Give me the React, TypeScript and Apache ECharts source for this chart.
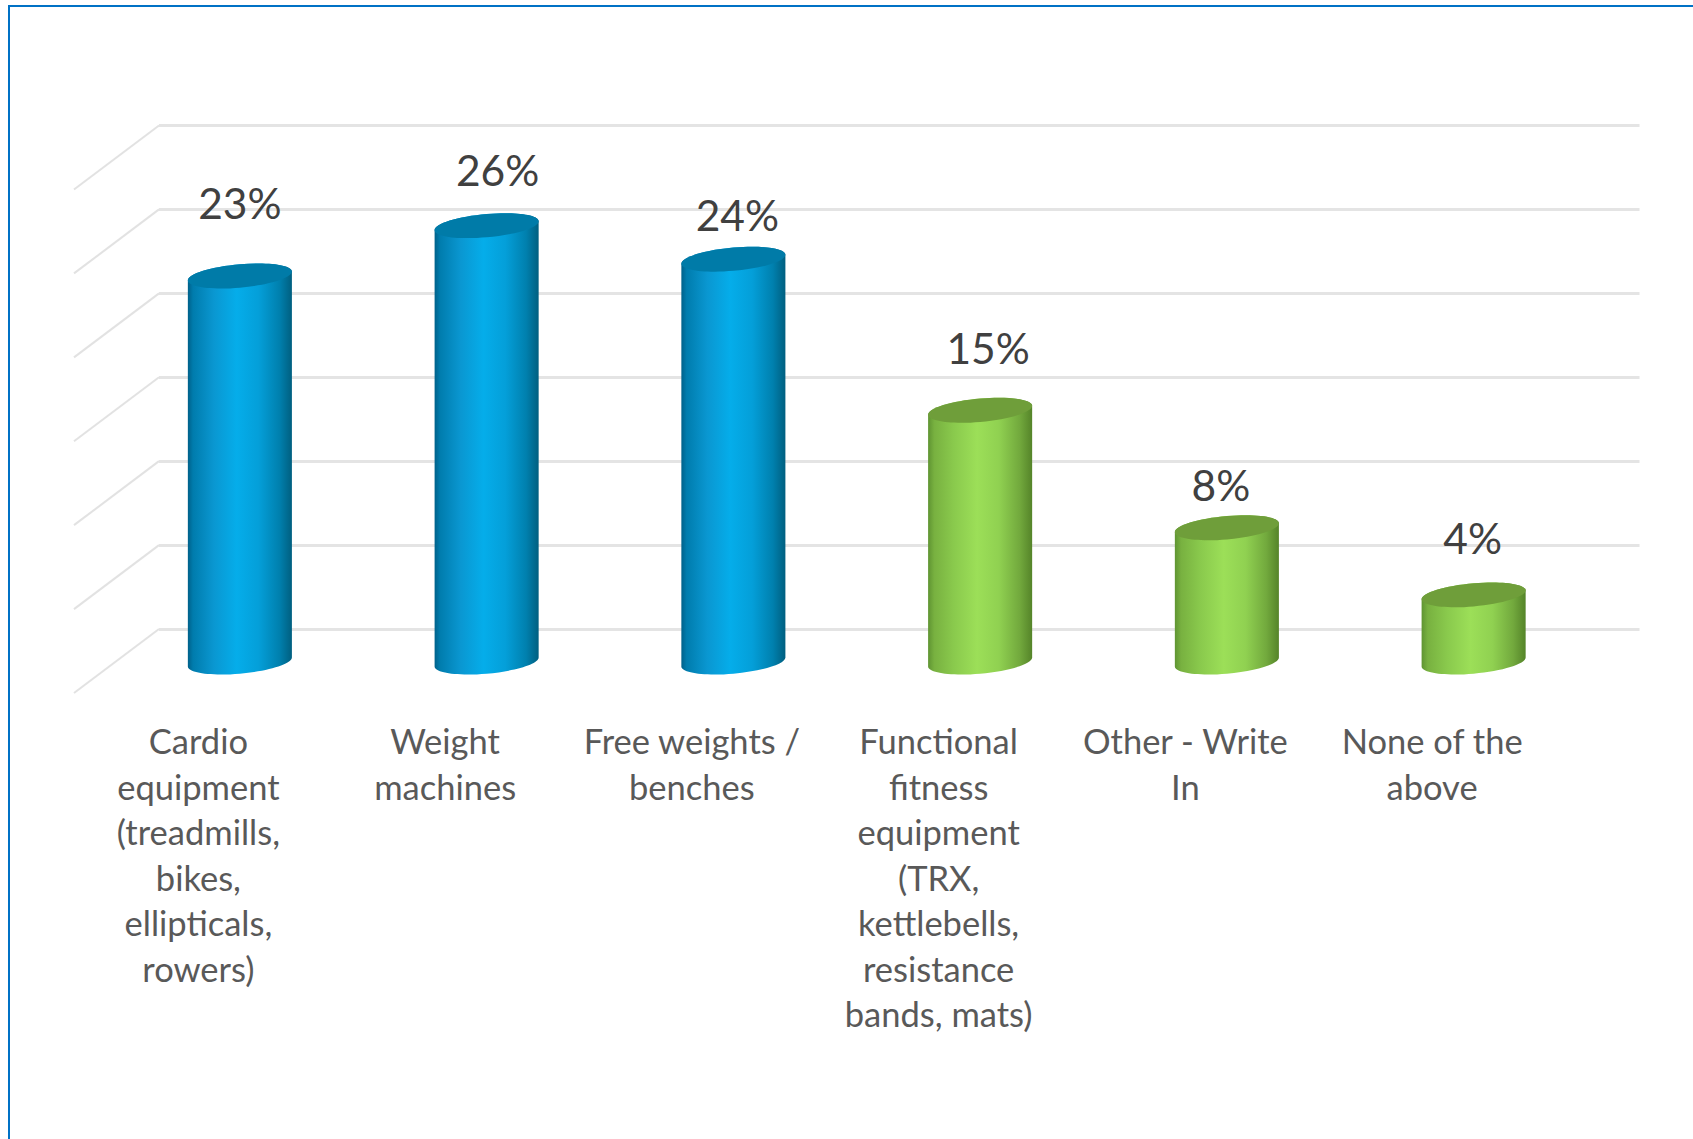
import React, { useEffect, useRef } from "react";
import * as echarts from "echarts";

// Survey shares by equipment type
const categories = [
  "Cardio\nequipment\n(treadmills,\nbikes,\nellipticals,\nrowers)",
  "Weight\nmachines",
  "Free weights /\nbenches",
  "Functional\nfitness\nequipment\n(TRX,\nkettlebells,\nresistance\nbands, mats)",
  "Other - Write\nIn",
  "None of the\nabove",
];
const shares = [23, 26, 24, 15, 8, 4];
const tones = ["blue", "blue", "blue", "green", "green", "green"];
const wallTicks = [0, 5, 10, 15, 20, 25, 30];

// Hand-placed data labels: offset of each label from its cylinder's top centre
const labelNudgeX = [0, 11, 4, 8, -6, -1];
const labelNudgeY = [-73, -56, -45, -63, -43, -57];

const palette: Record<string, { stops: [number, string][]; cap: string }> = {
  blue: {
    stops: [
      [0, "#00618a"],
      [0.05, "#007cad"],
      [0.25, "#0a97d1"],
      [0.47, "#05adea"],
      [0.68, "#049fd9"],
      [0.88, "#0080ae"],
      [1, "#005f80"],
    ],
    cap: "#007ba8",
  },
  green: {
    stops: [
      [0, "#5f9432"],
      [0.06, "#78b140"],
      [0.25, "#8aca4d"],
      [0.47, "#9cdf58"],
      [0.68, "#90d151"],
      [0.88, "#72a93d"],
      [1, "#558429"],
    ],
    cap: "#6f9e3a",
  },
};

// Floor depth of the 3D box, from the back wall to its front edge
const DEPTH_X = -85;
const DEPTH_Y = 64;
const BAND = 246.75;
const WALL = { left: 159, top: 125.5, height: 503.5, width: BAND * 6 };
const TILT = (5.2 * Math.PI) / 180;
const RY = 11.6;

// Point and tangent on an ellipse tilted TILT radians anticlockwise on screen
function ellipseAt(cx: number, cy: number, rx: number, t: number) {
  const c = Math.cos(t);
  const s = Math.sin(t);
  const cosT = Math.cos(TILT);
  const sinT = Math.sin(TILT);
  return {
    x: cx + rx * c * cosT + RY * s * sinT,
    y: cy - rx * c * sinT + RY * s * cosT,
    dx: -rx * s * cosT + RY * c * sinT,
    dy: rx * s * sinT + RY * c * cosT,
  };
}

// Cubic segments following the ellipse from t0 to t1, in quarter turns at most
function ellipseCurve(cx: number, cy: number, rx: number, t0: number, t1: number) {
  const steps = Math.ceil(Math.abs(t1 - t0) / (Math.PI / 2) - 1e-6);
  const dt = (t1 - t0) / steps;
  const k = (4 / 3) * Math.tan(dt / 4);
  let d = "";
  for (let n = 0; n < steps; n++) {
    const a = ellipseAt(cx, cy, rx, t0 + n * dt);
    const b = ellipseAt(cx, cy, rx, t0 + (n + 1) * dt);
    d += `C${a.x + k * a.dx} ${a.y + k * a.dy} ${b.x - k * b.dx} ${b.y - k * b.dy} ${b.x} ${b.y} `;
  }
  return d;
}

function renderWallEdge(params: any, api: any) {
  const y = api.coord([0, api.value(0)])[1];
  const x = params.coordSys.x;
  return {
    type: "line",
    shape: { x1: x, y1: y, x2: x + DEPTH_X, y2: y + DEPTH_Y },
    style: { stroke: "#e2e2e2", lineWidth: 2 },
    silent: true,
  };
}

function renderCylinder(params: any, api: any) {
  const i = api.value(0);
  const v = api.value(1);
  const [cx, yTop] = api.coord([i, v]);
  const yBase = api.coord([i, 0])[1];
  const rx = (api.size([1, 0])[0] * 0.4217) / 2 + 0.2;
  const tone = palette[tones[i]];

  // Parameter of the ellipse's rightmost point, where the cylinder's sides attach
  const tRight = Math.atan2(RY * Math.sin(TILT), rx * Math.cos(TILT));
  const tLeft = tRight + Math.PI;
  const topLeft = ellipseAt(cx, yTop, rx, tLeft);
  const baseLeft = ellipseAt(cx, yBase, rx, tLeft);
  const baseRight = ellipseAt(cx, yBase, rx, tRight);
  const topRight = ellipseAt(cx, yTop, rx, tRight);

  const body =
    `M${topLeft.x} ${topLeft.y} L${baseLeft.x} ${baseLeft.y} ` +
    ellipseCurve(cx, yBase, rx, tLeft, tRight) +
    `L${topRight.x} ${topRight.y} ` +
    ellipseCurve(cx, yTop, rx, tRight, tRight - Math.PI) +
    "Z";
  const cap =
    `M${topRight.x} ${topRight.y} ` +
    ellipseCurve(cx, yTop, rx, tRight, tRight + 2 * Math.PI) +
    "Z";

  return {
    type: "group",
    children: [
      {
        type: "path",
        shape: { pathData: body },
        style: {
          fill: new echarts.graphic.LinearGradient(
            0,
            0,
            1,
            0,
            tone.stops.map(([offset, color]) => ({ offset, color })),
          ),
        },
      },
      { type: "path", shape: { pathData: cap }, style: { fill: tone.cap } },
      {
        type: "text",
        x: cx + labelNudgeX[i],
        y: yTop + labelNudgeY[i],
        style: {
          text: `${v}%`,
          fill: "#404040",
          font: '42.5px Lato, "Noto Sans", sans-serif',
          align: "center",
          verticalAlign: "middle",
        },
      },
    ],
  };
}

export default function App() {
  const ref = useRef<HTMLDivElement>(null);

  useEffect(() => {
    const chart = echarts.init(ref.current!, undefined, { renderer: "svg" });
    const hiddenCategory = { type: "category", data: categories, show: false };
    const hiddenValue = { type: "value", min: 0, max: 30, interval: 5, show: false };
    chart.setOption({
      animation: false,
      backgroundColor: "#ffffff",
      grid: [
        // back wall
        { left: WALL.left, top: WALL.top, width: WALL.width, height: WALL.height },
        // mid-depth plane the cylinders stand on
        {
          left: WALL.left + DEPTH_X / 2,
          top: WALL.top + DEPTH_Y / 2 + 1,
          width: WALL.width,
          height: WALL.height,
        },
        // front edge of the floor, carrying the category labels
        {
          left: WALL.left + DEPTH_X + 1,
          top: WALL.top + DEPTH_Y,
          width: WALL.width,
          height: WALL.height,
        },
      ],
      xAxis: [
        { ...hiddenCategory, gridIndex: 0 },
        { ...hiddenCategory, gridIndex: 1 },
        {
          type: "category",
          data: categories,
          gridIndex: 2,
          axisLine: { show: false },
          axisTick: { show: false },
          axisLabel: {
            interval: 0,
            margin: 25,
            color: "#595959",
            fontFamily: 'Lato, "Noto Sans", sans-serif',
            fontSize: 34.5,
            lineHeight: 45.5,
            align: "center",
            verticalAlign: "top",
          },
        },
      ],
      yAxis: [
        {
          type: "value",
          min: 0,
          max: 30,
          interval: 5,
          gridIndex: 0,
          axisLine: { show: false },
          axisTick: { show: false },
          axisLabel: { show: false },
          splitLine: { lineStyle: { color: "#e4e4e4", width: 3 } },
        },
        { ...hiddenValue, gridIndex: 1 },
        { ...hiddenValue, gridIndex: 2 },
      ],
      series: [
        {
          type: "custom",
          xAxisIndex: 0,
          yAxisIndex: 0,
          data: wallTicks.map((t) => [t]),
          encode: { y: 0 },
          renderItem: renderWallEdge,
          silent: true,
          z: 1,
        },
        {
          type: "custom",
          xAxisIndex: 1,
          yAxisIndex: 1,
          data: shares.map((v, i) => [i, v]),
          encode: { x: 0, y: 1 },
          renderItem: renderCylinder,
          z: 2,
        },
      ],
      graphic: [
        {
          type: "polyline",
          shape: {
            points: [
              [9, 1139],
              [9, 6],
              [1693, 6],
            ],
          },
          style: { stroke: "#0071c5", lineWidth: 2, fill: "none" },
          silent: true,
        },
      ],
    });
    return () => chart.dispose();
  }, []);

  return (
    <div
      ref={ref}
      style={{ position: "absolute", left: 0, top: 0, width: 1693, height: 1139 }}
    />
  );
}
